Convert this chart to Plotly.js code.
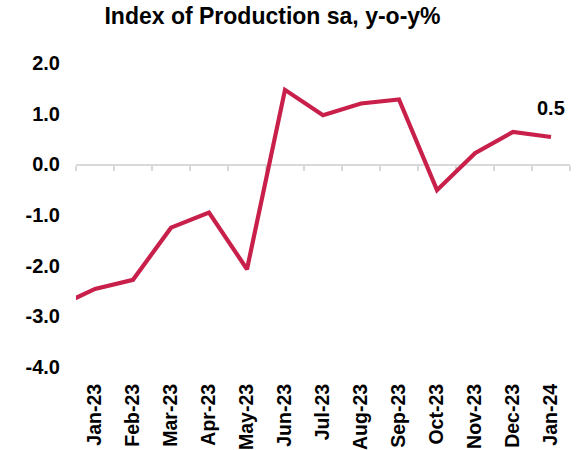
<!DOCTYPE html>
<html>
<head>
<meta charset="utf-8">
<script src="https://cdn.plot.ly/plotly-3.0.1.min.js"></script>
<style>
  html, body { margin: 0; padding: 0; background: #ffffff; }
  #chart { width: 578px; height: 450px; }
</style>
</head>
<body>
<div id="chart"></div>
<script>
// Data (Dec-22 lies just outside the visible range; the line runs into the left edge)
var months = ["Dec-22", "Jan-23", "Feb-23", "Mar-23", "Apr-23", "May-23", "Jun-23",
              "Jul-23", "Aug-23", "Sep-23", "Oct-23", "Nov-23", "Dec-23", "Jan-24"];
var iopYoY = [-2.81, -2.46, -2.28, -1.25, -0.95, -2.07, 1.47,
              0.97, 1.20, 1.28, -0.51, 0.22, 0.64, 0.54];
var yTicks = [-4, -3, -2, -1, 0, 1, 2];
var yTickLabels = ["-4.0", "-3.0", "-2.0", "-1.0", "0.0", "1.0", "2.0"];
var yRange = [-4, 2];

var FONT = "Liberation Sans, Arial, Helvetica, sans-serif";
var LINE_COLOR = "#C8204A";
var GRID_GREY = "#d9d9d9";

var visibleRange = [0.5, months.length - 0.5];
var lastIdx = months.length - 1;

var traces = [
  {
    x: months, y: iopYoY, type: "scatter", mode: "lines",
    line: { color: LINE_COLOR, width: 4.2, shape: "linear" },
    xaxis: "x", yaxis: "y", hoverinfo: "x+y", cliponaxis: true
  },
  {
    // invisible copy that anchors the zero-line category axis (boundary ticks)
    x: months, y: iopYoY, type: "scatter", mode: "lines",
    line: { color: "rgba(0,0,0,0)", width: 0 },
    xaxis: "x2", yaxis: "y", hoverinfo: "skip", showlegend: false
  }
];

var layout = {
  width: 578, height: 450,
  margin: { l: 75.5, r: 7.5, t: 63, b: 83 },
  paper_bgcolor: "#ffffff", plot_bgcolor: "#ffffff",
  showlegend: false,
  font: { family: FONT, color: "#000000" },
  title: {
    text: "Index of Production sa, y-o-y%",
    font: { family: FONT, size: 23, weight: "bold", color: "#000000" },
    xref: "container", x: 272.5 / 578, xanchor: "center",
    yref: "container", y: 1 - 16 / 450, yanchor: "middle"
  },
  xaxis: {
    type: "category", categoryorder: "array", categoryarray: months,
    range: visibleRange,
    showgrid: false, zeroline: false, showline: false,
    ticks: "", tickangle: -90,
    tickfont: { family: FONT, size: 19.5, weight: "bold", color: "#000000" },
    ticklabelstandoff: 12
  },
  xaxis2: {
    type: "category", categoryorder: "array", categoryarray: months,
    overlaying: "x", matches: "x", range: visibleRange,
    anchor: "free", position: (0 - yRange[0]) / (yRange[1] - yRange[0]),
    side: "bottom", layer: "below traces",
    showgrid: false, zeroline: false,
    showline: true, linecolor: GRID_GREY, linewidth: 1.5,
    ticks: "outside", tickson: "boundaries", ticklen: 5, tickwidth: 1.5, tickcolor: GRID_GREY,
    showticklabels: false
  },
  yaxis: {
    range: yRange, tickmode: "array", tickvals: yTicks, ticktext: yTickLabels,
    showgrid: false, zeroline: false, showline: false, ticks: "",
    tickfont: { family: FONT, size: 20, weight: "bold", color: "#000000" },
    ticklabelstandoff: 15
  },
  annotations: [
    {
      x: months[lastIdx], y: iopYoY[lastIdx], xref: "x", yref: "y",
      text: iopYoY[lastIdx].toFixed(1), showarrow: false,
      yshift: 29,
      font: { family: FONT, size: 20, weight: "bold", color: "#000000" }
    }
  ]
};

Plotly.newPlot("chart", traces, layout, { staticPlot: true, displayModeBar: false });
</script>
</body>
</html>
